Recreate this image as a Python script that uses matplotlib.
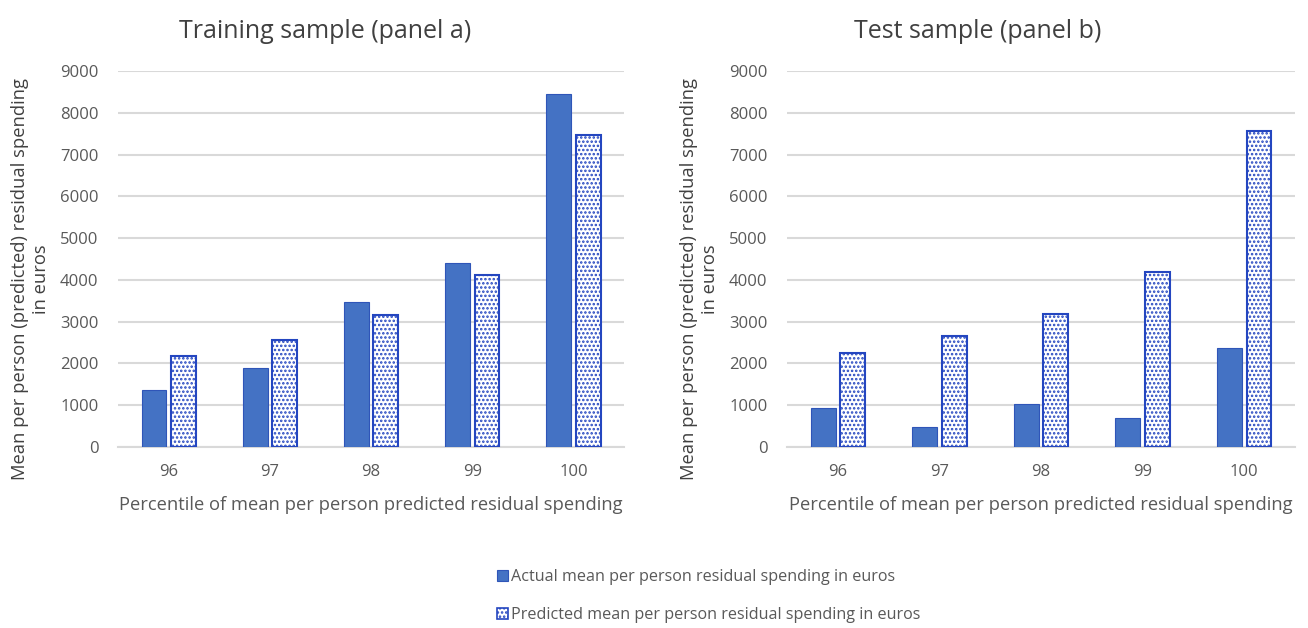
import numpy as np
import matplotlib
matplotlib.use("Agg")
import matplotlib.pyplot as plt
from matplotlib.patches import Patch

plt.rcParams['font.family'] = ['Open Sans', 'DejaVu Sans']
plt.rcParams['hatch.linewidth'] = 1.2

percentiles = ['96', '97', '98', '99', '100']

train_actual = [1370, 1880, 3460, 4410, 8460]
train_predicted = [2170, 2570, 3170, 4110, 7470]

test_actual = [930, 470, 1040, 690, 2370]
test_predicted = [2240, 2660, 3180, 4190, 7570]

blue = '#4472C4'
blue_edge = '#2F55B8'
hatch_blue = '#2446C0'
grid_grey = '#D9D9D9'
text_grey = '#595959'

ylabel = 'Mean per person (predicted) residual spending\nin euros'
xlabel = 'Percentile of mean per person predicted residual spending'

fig = plt.figure(figsize=(13.08, 6.28), dpi=100)
ax1 = fig.add_axes([0.0902, 0.2882, 0.3869, 0.5987])
ax2 = fig.add_axes([0.6017, 0.2882, 0.3884, 0.5987])


def draw_panel(ax, actual, predicted, title, title_x):
    x = np.arange(len(percentiles))
    w = 0.245
    off = 0.145
    ax.bar(x - off, actual, w, color=blue, edgecolor=blue_edge, linewidth=0.8, zorder=3)
    ax.bar(x + off, predicted, w, color='white', edgecolor=hatch_blue, hatch='....',
           linewidth=1.5, zorder=3)
    ax.set_xlim(-0.5, len(percentiles) - 0.5)
    ax.set_ylim(0, 9000)
    ax.set_yticks(np.arange(0, 9001, 1000))
    ax.set_xticks(x)
    ax.set_xticklabels(percentiles)
    ax.yaxis.grid(True, color=grid_grey, linewidth=1.5, zorder=0)
    ax.set_axisbelow(True)
    for s in ['top', 'right', 'left']:
        ax.spines[s].set_visible(False)
    ax.spines['bottom'].set_color(grid_grey)
    ax.spines['bottom'].set_linewidth(1.5)
    ax.tick_params(axis='both', length=0, labelsize=12, colors=text_grey)
    ax.tick_params(axis='x', pad=12)
    ax.tick_params(axis='y', pad=14)
    ax.set_title(title, fontsize=18, color='#404040', pad=24, x=title_x)
    ax.set_xlabel(xlabel, fontsize=13.2, color=text_grey, labelpad=12)
    ax.set_ylabel(ylabel, fontsize=13.2, color='#404040')
    # shift the y label a little lower, like the original
    ax.yaxis.set_label_coords(-0.134, 0.447)


draw_panel(ax1, train_actual, train_predicted, 'Training sample (panel a)', 0.41)
draw_panel(ax2, test_actual, test_predicted, 'Test sample (panel b)', 0.375)

handles = [
    Patch(facecolor=blue, edgecolor=blue_edge, linewidth=0.8),
    Patch(facecolor='white', edgecolor=hatch_blue, hatch='....', linewidth=1.2),
]
labels = ['Actual mean per person residual spending in euros',
          'Predicted mean per person residual spending in euros']
fig.legend(handles, labels, loc='center', bbox_to_anchor=(0.542, 0.051),
           frameon=False, fontsize=11.6, handlelength=0.7, handleheight=0.7,
           handletextpad=0.2, labelspacing=1.35, labelcolor=text_grey)

fig.savefig('out.png', dpi=100)
